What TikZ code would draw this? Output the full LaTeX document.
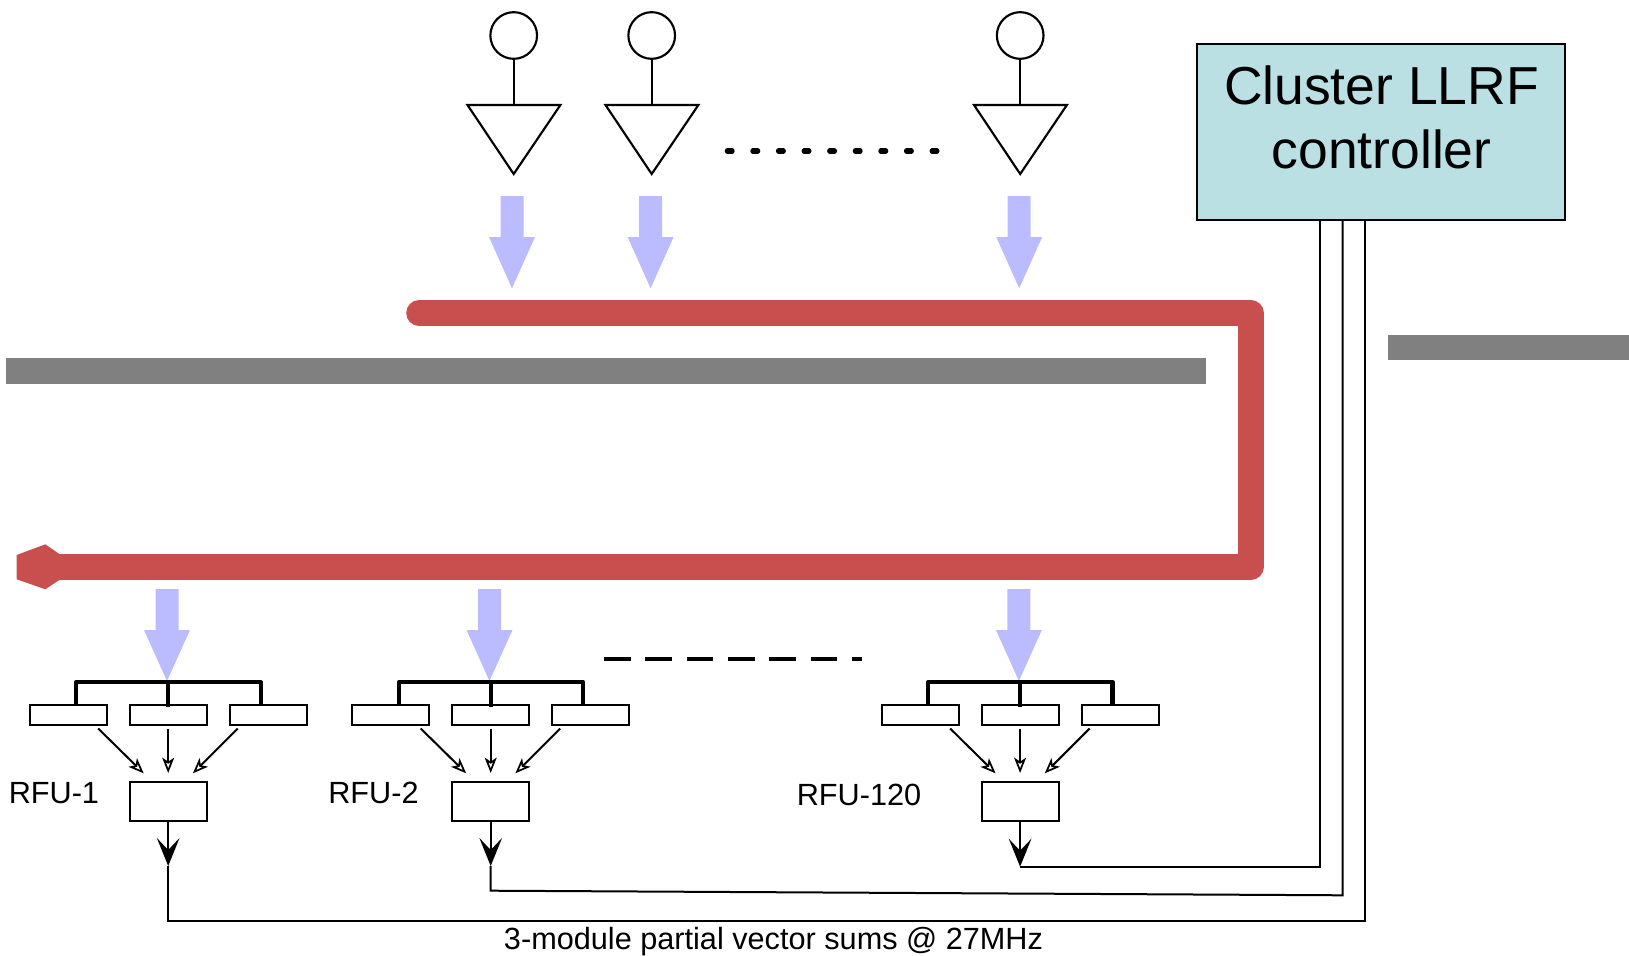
\documentclass[tikz,border=0pt]{standalone}
\usepackage{fontspec}
\setmainfont{Liberation Sans}
\usetikzlibrary{arrows.meta,calc}
\definecolor{redline}{HTML}{C94F4F}
\definecolor{bluearrow}{HTML}{BBBBFF}
\definecolor{ctrlfill}{HTML}{BAE0E3}
\definecolor{barcol}{HTML}{808080}
\tikzset{
  wire/.style={draw=black,line width=1.5pt,line join=miter},
  whitebox/.style={draw=black,fill=white,line width=1.5pt,rectangle,inner sep=0pt,minimum width=57.7pt,minimum height=14.6pt},
  sumbox/.style={draw=black,fill=white,line width=1.5pt,rectangle,inner sep=0pt,minimum width=57.7pt,minimum height=29pt},
  source/.style={draw=black,fill=white,line width=1.6pt,circle,inner sep=0pt,minimum size=35pt},
  distbar/.style={draw=black,line width=3.2pt,line join=round},
  smallarrow/.style={draw=black,line width=1.5pt,-{Stealth[fill=white,length=11.5pt,width=9pt,inset=3pt,line width=1.3pt]}},
  bigarrow/.style={draw=black,line width=1.5pt,-{Stealth[length=21pt,width=17pt,inset=9pt]}},
  blockarrow/.style={fill=bluearrow,draw=none},
  rail/.style={draw=redline,line width=19.2pt,line cap=round,line join=round},
  graybar/.style={fill=barcol,draw=none},
  rfulabel/.style={font=\fontsize{23pt}{26pt}\selectfont,anchor=base west,inner sep=0pt},
}
\begin{document}
\begin{tikzpicture}[x=0.75pt,y=-0.75pt]
\useasboundingbox (0,0) rectangle (1629,956);
% gray bars
\fill[graybar] (5.5,358) rectangle (1206,383.5);
\fill[graybar] (1387.5,334.5) rectangle (1629,360);
% controller
\node[draw=black,fill=ctrlfill,line width=1.5pt,rectangle,inner sep=0pt,minimum width=276.3pt,minimum height=132pt] (ctrl) at (1381,132) {};
\node[anchor=base,inner sep=0pt,font=\fontsize{40.1pt}{48.5pt}\selectfont] (ctrltext1) at (1381.5,104) {Cluster LLRF};
\node[anchor=base,inner sep=0pt,font=\fontsize{40.1pt}{48.5pt}\selectfont] (ctrltext2) at (1381.5,168) {controller};
% red rail
\draw[rail] (419,313) -- (1250.7,313) -- (1250.7,567) -- (62,567);
\fill[redline] (16.7,555) -- (45.3,544.3) -- (59.3,554) -- (62,554) -- (62,580) -- (59.3,580) -- (45.3,589.3) -- (16.7,579.3) -- cycle;
% sources
\foreach \n/\x in {a/513.7,b/651.7,c/1020.2}{
  \node[source] (s\n) at (\x,35.5) {};
  \coordinate (tl\n) at ($(\x,105)+(-46.2,0)$);
  \coordinate (tr\n) at ($(\x,105)+(46.7,0)$);
  \coordinate (ta\n) at (\x,174);
  \coordinate (tt\n) at (\x,105);
  \draw[line width=1.6pt,line join=miter,fill=white] (tl\n) -- (tr\n) -- (ta\n) -- cycle;
  \draw[line width=1.6pt] (s\n.south) -- (tt\n);
}
\foreach \x in {512,650.6,1019.2}{
  \fill[blockarrow] (\x-11.5,196) -- (\x+11.5,196) -- (\x+11.5,237) -- (\x+23,237) -- (\x,288.3) -- (\x-23,237) -- (\x-11.5,237) -- cycle;
}
\coordinate (dotsa) at (727.3,151);
\coordinate (dotsb) at (938,151);
\draw[line width=3.9pt,line cap=round,dash pattern=on 3.6pt off 15.6pt] (dotsa) -- (dotsb);
\coordinate (dashesa) at (604,659);
\coordinate (dashesb) at (862,659);
\draw[line width=3.6pt,dash pattern=on 20pt off 11pt] (dashesa) -- (dashesb);
% RFU groups
\foreach \n/\c/\t in {1/168.2/866,2/490.7/866,3/1020.1/866.7}{
  \fill[blockarrow] (\c-1.2-11.5,589) -- (\c-1.2+11.5,589) -- (\c-1.2+11.5,630) -- (\c-1.2+23,630) -- (\c-1.2,681) -- (\c-1.2-23,630) -- (\c-1.2-11.5,630) -- cycle;
  \node[whitebox] (l\n) at (\c-100,715) {};
  \node[whitebox] (m\n) at (\c,715) {};
  \node[whitebox] (r\n) at (\c+100,715) {};
  \coordinate (bl\n) at (\c-92,682.3);
  \coordinate (bm\n) at (\c,682.3);
  \coordinate (br\n) at (\c+92.5,682.3);
  \draw[distbar] (\c-92,705) -- (bl\n) -- (br\n) -- (\c+92.5,705);
  \draw[distbar] (bm\n) -- (\c,707);
  \node[sumbox] (v\n) at (\c,801.8) {};
  \draw[smallarrow] (\c-70,728.5) -- (\c-24.5,773.3);
  \draw[smallarrow] (\c,728.5) -- (\c,773);
  \draw[smallarrow] (\c+69.5,728.5) -- (\c+24.7,773.3);
  \coordinate (tip\n) at (\c,\t);
  \draw[bigarrow] (v\n.south) -- (tip\n);
}
% return lines
\coordinate (c1) at (1365.4,921.3);
\coordinate (c2) at (1342.6,895.3);
\coordinate (c3) at (1320,867.3);
\coordinate (k1) at (168.2,921.3);
\coordinate (k2) at (490.7,890.7);
\coordinate (u1) at (1365.4,220);
\coordinate (u2) at (1342.6,220);
\coordinate (u3) at (1320,220);
\draw[wire] (tip1) -- (k1) -- (c1) -- (u1);
\draw[wire] (tip2) -- (k2) -- (c2) -- (u2);
\draw[wire] (tip3) -- (tip3-|c3) -- (u3);
% labels
\node[rfulabel] (lab1) at (8.5,803.8) {RFU-1};
\node[rfulabel] (lab2) at (328,803.8) {RFU-2};
\node[rfulabel] (lab3) at (796.5,805) {RFU-120};
\node[anchor=base,inner sep=0pt,font=\fontsize{23pt}{26pt}\selectfont] (bottomlab) at (773.5,949.5) {3-module partial vector sums @ 27MHz};
\end{tikzpicture}
\end{document}
